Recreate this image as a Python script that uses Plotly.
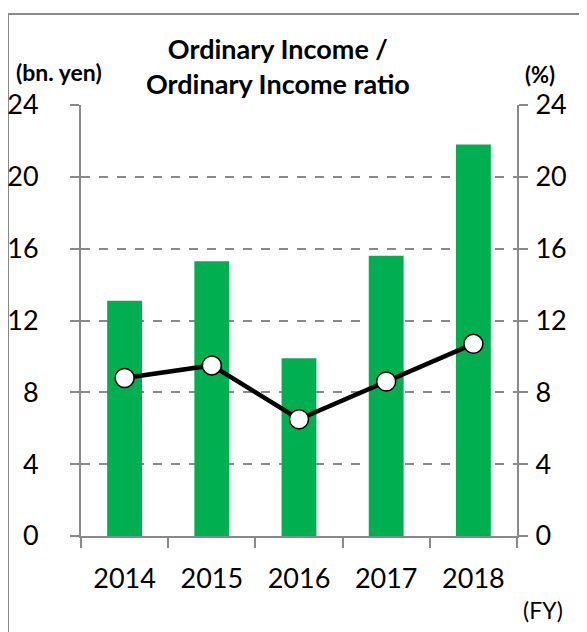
import plotly.graph_objects as go

years = ["2014", "2015", "2016", "2017", "2018"]
ordinary_income = [13.1, 15.3, 9.9, 15.6, 21.8]      # bn. yen
income_ratio = [8.8, 9.5, 6.5, 8.6, 10.7]            # %
y_ticks = [0, 4, 8, 12, 16, 20, 24]

FONT = "Lato"
GRAY = "#898989"
GREEN = "#00B050"

fig = go.Figure()
fig.add_trace(go.Bar(x=years, y=ordinary_income, marker_color=GREEN,
                     marker_line_width=0, width=0.4, yaxis="y"))
fig.add_trace(go.Scatter(x=years, y=income_ratio, mode="lines+markers", yaxis="y2",
                         line=dict(color="black", width=4.5),
                         marker=dict(size=19, color="white",
                                     line=dict(color="black", width=1.5))))

# plot area in screen pixels (page body has an 8px margin)
OFF = 8
L, R, T, B = 81, 517, 105, 536
W, H = 587, 632

def px(x):
    return (x - L) / (R - L)

def py(y):
    return (B - y) / (B - T)

fig.update_layout(
    width=W, height=H,
    margin=dict(l=L - OFF, r=W - (R - OFF), t=T - OFF, b=H - (B - OFF), autoexpand=False),
    paper_bgcolor="white", plot_bgcolor="white",
    showlegend=False,
    font=dict(family=FONT, color="black"),
    xaxis=dict(type="category", range=[-0.5, 4.5], showline=True, linecolor=GRAY,
               linewidth=2, ticks="outside", ticklen=10, tickcolor=GRAY, tickwidth=2,
               tickson="boundaries", showgrid=False, tickfont=dict(size=27),
               ticklabelstandoff=18, automargin=False),
    yaxis=dict(range=[0, 24], tickvals=y_ticks, showline=True, linecolor=GRAY,
               linewidth=2, ticks="outside", ticklen=9, tickcolor=GRAY, tickwidth=2,
               showgrid=True, gridcolor=GRAY, griddash="dash", gridwidth=1.5,
               zeroline=False, tickfont=dict(size=27), ticklabelstandoff=26,
               automargin=False),
    yaxis2=dict(range=[0, 24], tickvals=y_ticks, overlaying="y", side="right",
                showline=True, linecolor=GRAY, linewidth=2, ticks="outside",
                ticklen=9, tickcolor=GRAY, tickwidth=2, showgrid=False,
                zeroline=False, tickfont=dict(size=27), ticklabelstandoff=2,
                automargin=False),
)

# outer frame
fig.add_shape(type="rect", xref="paper", yref="paper",
              x0=px(8), x1=px(640), y0=py(700), y1=py(14),
              line=dict(color=GRAY, width=2), fillcolor="rgba(0,0,0,0)", layer="below")

fig.add_annotation(xref="paper", yref="paper", x=px(278), y=py(66), xanchor="center",
                   yanchor="middle", showarrow=False, align="center",
                   text="<b>Ordinary Income /<br>Ordinary Income ratio</b>",
                   font=dict(size=27, family=FONT))
fig.add_annotation(xref="paper", yref="paper", x=px(14), y=py(72), xanchor="left",
                   yanchor="middle", showarrow=False, text="<b>(bn. yen)</b>",
                   font=dict(size=23, family=FONT))
fig.add_annotation(xref="paper", yref="paper", x=px(523), y=py(75), xanchor="left",
                   yanchor="middle", showarrow=False, text="<b>(%)</b>",
                   font=dict(size=22, family=FONT))
fig.add_annotation(xref="paper", yref="paper", x=px(521), y=py(610), xanchor="left",
                   yanchor="middle", showarrow=False, text="(FY)",
                   font=dict(size=23, family=FONT))

fig.write_html("out.html")
